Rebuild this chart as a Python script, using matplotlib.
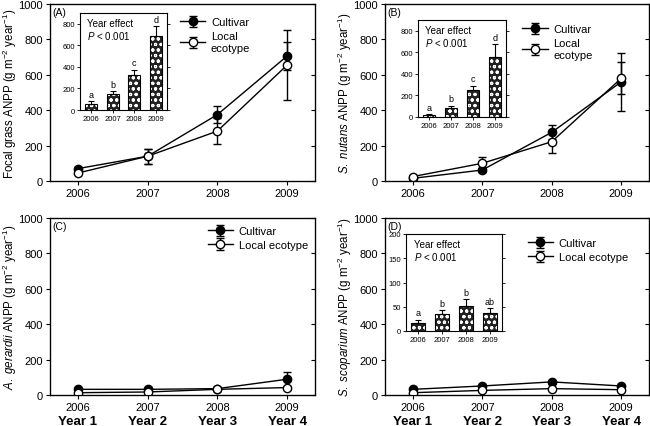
import matplotlib
matplotlib.use('Agg')
import matplotlib.pyplot as plt
import matplotlib.transforms as mtransforms

plt.rcParams['font.family'] = ['Liberation Sans', 'DejaVu Sans']
plt.rcParams['mathtext.fontset'] = 'custom'
plt.rcParams['mathtext.rm'] = 'Liberation Sans'
plt.rcParams['mathtext.it'] = 'Liberation Sans:italic'
plt.rcParams['mathtext.bf'] = 'Liberation Sans:bold'
plt.rcParams['hatch.linewidth'] = 0.8

years = [2006, 2007, 2008, 2009]
year_names = ['Year 1', 'Year 2', 'Year 3', 'Year 4']

# main panels: means and standard errors
a_cult = [70, 140, 375, 706]
a_cult_err = [10, 43, 47, 78]
a_local = [45, 140, 282, 655]
a_local_err = [8, 43, 72, 200]

b_cult = [15, 62, 275, 560]
b_cult_err = [5, 10, 40, 165]
b_local = [25, 100, 222, 580]
b_local_err = [8, 33, 66, 90]

c_cult = [32, 32, 36, 89]
c_cult_err = [5, 5, 4, 41]
c_local = [13, 17, 32, 42]
c_local_err = [3, 3, 3, 8]

d_cult = [32, 51, 74, 51]
d_cult_err = [5, 6, 10, 6]
d_local = [13, 26, 36, 30]
d_local_err = [3, 4, 5, 4]

# insets: year effect
ins_a = [60, 149, 329, 685]
ins_a_err = [22, 25, 46, 93]
ins_a_let = ['a', 'b', 'c', 'd']

ins_b = [18, 85, 249, 555]
ins_b_err = [10, 21, 40, 121]
ins_b_let = ['a', 'b', 'c', 'd']

ins_d = [17, 36, 52, 38]
ins_d_err = [6, 7, 14, 9]
ins_d_let = ['a', 'b', 'b', 'ab']

W, H = 650, 427
fig = plt.figure(figsize=(W / 100, H / 100), dpi=100)


def box(l, t, r, b):
    return [l / W, 1 - b / H, (r - l) / W, (b - t) / H]


def panel(rect, cult, cerr, local, lerr, tag, ylabel, legtxt, legpos, bottom_row):
    ax = fig.add_axes(rect)
    ax.errorbar(years, cult, yerr=cerr, color='black', lw=1, marker='o', ms=6,
                mfc='black', mec='black', capsize=3, elinewidth=1, capthick=1,
                label='Cultivar', zorder=3)
    ax.errorbar(years, local, yerr=lerr, color='black', lw=1, marker='o', ms=6,
                mfc='white', mec='black', capsize=3, elinewidth=1, capthick=1,
                label=legtxt, zorder=4)
    ax.set_xlim(2005.6, 2009.4)
    ax.set_ylim(0, 1000)
    ax.set_xticks(years)
    ax.set_yticks([0, 200, 400, 600, 800, 1000])
    ax.tick_params(direction='out', length=3, width=0.8, labelsize=8, pad=2)
    for s in ax.spines.values():
        s.set_linewidth(0.9)
    ax.set_ylabel(ylabel, fontsize=8.3)
    ax.yaxis.set_label_coords(-31.0 / 265, 0.5)
    ax.text(0.01, 0.985, tag, transform=ax.transAxes, fontsize=7.5, va='top', ha='left')
    # inward ticks on the right side
    tw = ax.twinx()
    tw.set_ylim(0, 1000)
    tw.set_yticks([0, 200, 400, 600, 800, 1000])
    tw.tick_params(direction='in', length=3, width=0.8, labelright=False)
    ax.legend(loc='upper left', bbox_to_anchor=legpos, frameon=False,
              fontsize=8, handlelength=2.3, handletextpad=0.5,
              labelspacing=0.35, borderpad=0, borderaxespad=0)
    if bottom_row:
        trans = mtransforms.blended_transform_factory(ax.transData, ax.transAxes)
        for x, nm in zip(years, year_names):
            ax.text(x, -0.148, nm, transform=trans, ha='center', va='center',
                    fontsize=9.5, fontweight='bold')
    return ax


def inset(rect, vals, errs, letters, ymax, yt):
    ia = fig.add_axes(rect)
    pos = list(range(len(years)))
    ia.bar(pos, vals, width=0.55, color='#222222', edgecolor='white', hatch='ooo',
           linewidth=0, zorder=2)
    ia.bar(pos, vals, width=0.55, fill=False, edgecolor='black', linewidth=0.8, zorder=3)
    ia.errorbar(pos, vals, yerr=[[0] * len(vals), errs], fmt='none', ecolor='black',
                elinewidth=0.8, capsize=2.5, capthick=0.8, zorder=4)
    for p, v, e, l in zip(pos, vals, errs, letters):
        ia.text(p, v + e + ymax * 0.025, l, ha='center', va='bottom', fontsize=6.5)
    ia.set_xlim(-0.5, 3.5)
    ia.set_ylim(0, ymax)
    ia.set_yticks(yt)
    ia.set_xticks(pos)
    ia.set_xticklabels([str(y) for y in years])
    ia.tick_params(direction='out', length=2, width=0.6, labelsize=5.5, pad=1.5)
    ia.tick_params(axis='y', right=True)
    for s in ia.spines.values():
        s.set_linewidth(0.8)
    ia.text(0.08, 0.95, 'Year effect', transform=ia.transAxes, fontsize=7, va='top')
    ia.text(0.08, 0.83, '$\\mathit{P}$ < 0.001', transform=ia.transAxes, fontsize=7, va='top')
    return ia


ylab_a = 'Focal grass ANPP (g m$^{-2}$ year$^{-1}$)'
ylab_b = '$\\mathit{S.\\ nutans}$ ANPP (g m$^{-2}$ year$^{-1}$)'
ylab_c = '$\\mathit{A.\\ gerardii}$ ANPP (g m$^{-2}$ year$^{-1}$)'
ylab_d = '$\\mathit{S.\\ scoparium}$ ANPP (g m$^{-2}$ year$^{-1}$)'

panel(box(50, 5, 315, 182), a_cult, a_cult_err, a_local, a_local_err, '(A)', ylab_a,
      'Local\necotype', (0.49, 0.925), False)
panel(box(385, 5, 649, 182), b_cult, b_cult_err, b_local, b_local_err, '(B)', ylab_b,
      'Local\necotype', (0.52, 0.885), False)
panel(box(50, 219, 315, 396), c_cult, c_cult_err, c_local, c_local_err, '(C)', ylab_c,
      'Local ecotype', (0.595, 0.955), True)
panel(box(385, 219, 649, 396), d_cult, d_cult_err, d_local, d_local_err, '(D)', ylab_d,
      'Local ecotype', (0.54, 0.885), True)

inset(box(80, 14, 167, 111), ins_a, ins_a_err, ins_a_let, 900, [0, 200, 400, 600, 800])
inset(box(418, 21, 506, 118), ins_b, ins_b_err, ins_b_let, 900, [0, 200, 400, 600, 800])
inset(box(406, 235, 502, 332), ins_d, ins_d_err, ins_d_let, 200, [0, 50, 100, 150, 200])

fig.savefig('out.png', dpi=100)
